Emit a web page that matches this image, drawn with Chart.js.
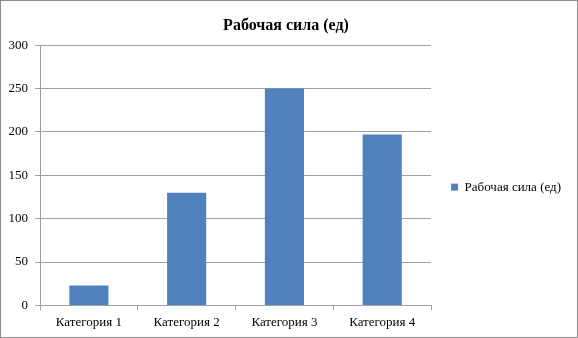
<!DOCTYPE html>
<html>
<head>
<meta charset="utf-8">
<script src="https://cdn.jsdelivr.net/npm/chart.js@4"></script>
<style>
  body { margin: 0; background: #fff; }
  #wrap { width: 578px; height: 338px; box-sizing: border-box; border: 1px solid #8c8c8c; }
</style>
</head>
<body>
<div id="wrap"><canvas id="chart" width="576" height="336"></canvas></div>
<script>
let categories = ['Категория 1', 'Категория 2', 'Категория 3', 'Категория 4'];
let workforce = [23, 130, 250, 197];
let seriesName = 'Рабочая сила (ед)';
let chartTitle = 'Рабочая сила (ед)';

const serif = "'Liberation Serif', serif";
const gridGray = '#a0a0a0';

const config = {
    type: 'bar',
    data: {
        labels: categories,
        datasets: [{
            label: seriesName,
            data: workforce,
            backgroundColor: '#4f81bd',
            borderWidth: 0,
            barPercentage: 0.4,
            categoryPercentage: 1.0
        }]
    },
    options: {
        responsive: false,
        animation: false,
        layout: { padding: { top: 0, right: 6, bottom: 3, left: 0 } },
        plugins: {
            title: {
                display: true,
                text: chartTitle,
                color: '#000',
                font: { family: serif, size: 16, weight: 'bold' },
                padding: { top: 15, bottom: 10 }
            },
            legend: {
                position: 'right',
                title: { display: true, text: ' ', padding: 10, font: { size: 16 } },
                labels: {
                    color: '#000',
                    font: { family: serif, size: 13 },
                    usePointStyle: true,
                    pointStyle: 'rect',
                    boxWidth: 7,
                    boxHeight: 7,
                    padding: 20
                }
            },
            tooltip: { enabled: false }
        },
        scales: {
            x: {
                grid: { display: true, drawOnChartArea: false, offset: true, tickLength: 5, color: gridGray },
                border: { color: gridGray },
                ticks: { color: '#000', font: { family: serif, size: 13 }, padding: 4 }
            },
            y: {
                min: 0,
                max: 300,
                ticks: { stepSize: 50, color: '#000', font: { family: serif, size: 13 }, padding: 7 },
                grid: { color: gridGray, tickLength: 5 },
                border: { color: gridGray },
                afterFit: function (scale) { scale.width = 39; }
            }
        }
    }
};

const chart = new Chart(document.getElementById('chart'), config);
</script>
</body>
</html>
